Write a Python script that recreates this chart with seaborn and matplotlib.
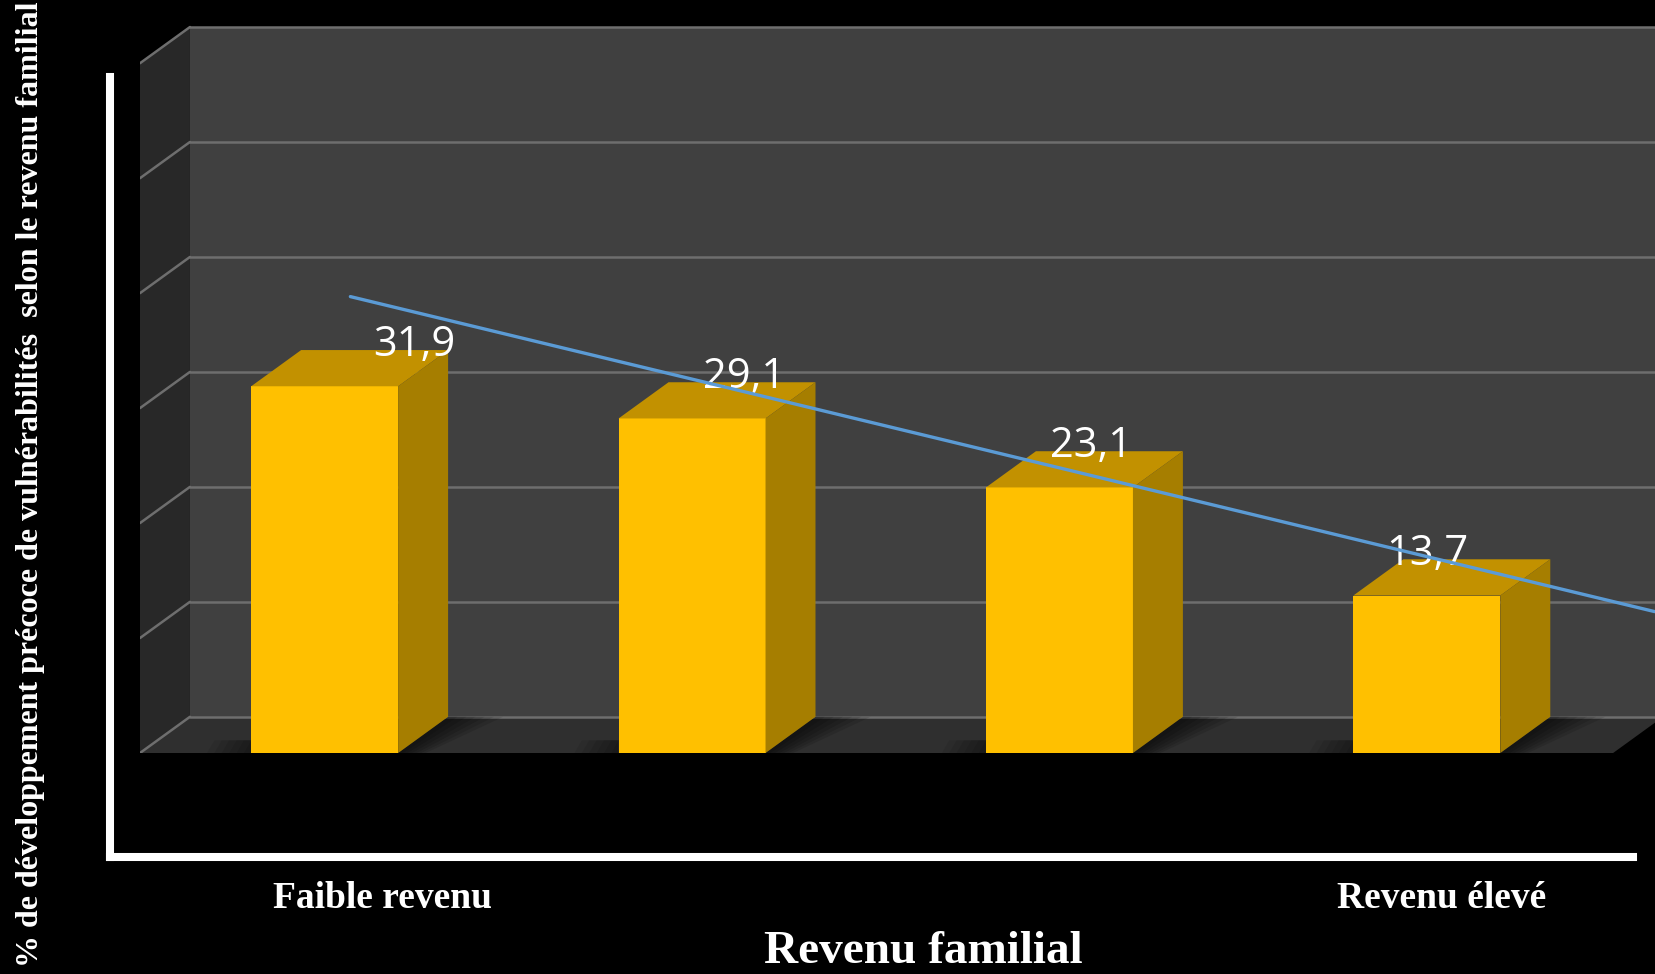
import numpy as np
import pandas as pd
import seaborn as sns
import matplotlib.pyplot as plt
from matplotlib.patches import Polygon

# data
categories = ["Faible revenu", "Revenu 2", "Revenu 3", "Revenu élevé"]
tick_labels = ["Faible revenu", "", "", "Revenu élevé"]
values = [31.9, 29.1, 23.1, 13.7]
value_labels = ["31,9", "29,1", "23,1", "13,7"]
trend_x = [0.07, 3.62]
trend_y = [39.7, 12.3]
grid_values = [0, 10, 20, 30, 40, 50, 60]

# layout (3d look)
label_dx = [0.245, 0.143, 0.087, 0.0]
label_dy = 3.6
depth_x = 0.136
depth_y = 3.15
x_left = -0.5026
x_floor_right = 3.507
x_right = 3.621

df = pd.DataFrame({"cat": categories, "val": values})

sns.set_theme(style="dark")
plt.rcParams["font.family"] = ["Liberation Serif", "DejaVu Serif"]

fig = plt.figure(figsize=(16.55, 9.74), dpi=100)
fig.patch.set_facecolor("black")

# outer white frame (left + bottom)
ax_frame = fig.add_axes([110 / 1655, (974 - 857) / 974, (1633 - 110) / 1655, (857 - 77) / 974])
ax_frame.set_facecolor("none")
for s in ["top", "right"]:
    ax_frame.spines[s].set_visible(False)
for s in ["left", "bottom"]:
    ax_frame.spines[s].set_color("white")
    ax_frame.spines[s].set_linewidth(5.8)
ax_frame.set_xticks([])
ax_frame.set_yticks([])

ax = fig.add_axes([140 / 1655, (974 - 753) / 974, (1655 - 140) / 1655, 753 / 974])
ax.set_facecolor("none")

sns.barplot(data=df, x="cat", y="val", color="#FFC000", saturation=1,
            width=0.4, ax=ax, zorder=3, edgecolor="none", linewidth=0)
bars = list(ax.containers[0])

ax.set_xlim(x_left, x_right)
ax.set_ylim(0, 65.5)

top = grid_values[-1]
# back wall
ax.add_patch(Polygon([(x_left + depth_x, depth_y), (x_right, depth_y),
                      (x_right, top + depth_y), (x_left + depth_x, top + depth_y)],
                     closed=True, facecolor="#404040", edgecolor="none", zorder=0.2))
# left wall
ax.add_patch(Polygon([(x_left, 0), (x_left + depth_x, depth_y),
                      (x_left + depth_x, top + depth_y), (x_left, top)],
                     closed=True, facecolor="#282828", edgecolor="none", zorder=0.2))
# floor
ax.add_patch(Polygon([(x_left, 0), (x_floor_right, 0),
                      (x_floor_right + depth_x, depth_y), (x_left + depth_x, depth_y)],
                     closed=True, facecolor="#2f2f2f", edgecolor="none", zorder=0.3))

# gridlines
for g in grid_values:
    ax.plot([x_left + depth_x, x_right], [g + depth_y, g + depth_y],
            color="#6e6e6e", lw=1.8, zorder=0.4)
    ax.plot([x_left, x_left + depth_x], [g, g + depth_y],
            color="#6e6e6e", lw=1.8, zorder=0.4)

# 3d faces of bars
for p in bars:
    x0 = p.get_x()
    x1 = x0 + p.get_width()
    h = p.get_height()
    # soft floor shadow right of the bar and before it
    for k in range(6):
        w = 0.025 * (k + 1)
        ax.add_patch(Polygon([(x1, 0), (x1 + depth_x, depth_y),
                              (x1 + depth_x + w, depth_y), (x1 + w * 0.5, 0)],
                             closed=True, facecolor="black", alpha=0.12,
                             edgecolor="none", zorder=0.5))
        ax.add_patch(Polygon([(x0 - w * 0.8, 0), (x0 - w * 0.8 + 0.02, depth_y * 0.35),
                              (x0, depth_y * 0.35), (x0, 0)],
                             closed=True, facecolor="black", alpha=0.08,
                             edgecolor="none", zorder=0.5))
    ax.add_patch(Polygon([(x0, h), (x0 + depth_x, h + depth_y),
                          (x1 + depth_x, h + depth_y), (x1, h)],
                         closed=True, facecolor="#C29100", edgecolor="none", zorder=3))
    ax.add_patch(Polygon([(x1, 0), (x1 + depth_x, depth_y),
                          (x1 + depth_x, h + depth_y), (x1, h)],
                         closed=True, facecolor="#A67E00", edgecolor="none", zorder=3))

# value labels
for i, (v, lab) in enumerate(zip(values, value_labels)):
    ax.text(i + label_dx[i], v + label_dy, lab, ha="center", va="center",
            color="white", fontsize=30, family=["Open Sans", "DejaVu Sans"], zorder=5)

# trend line
sns.lineplot(x=trend_x, y=trend_y, color="#5B9BD5", lw=2.4, ax=ax, zorder=6)

for s in ax.spines.values():
    s.set_visible(False)
ax.set_yticks([])
ax.set_xticks([0.158, 3.041])
ax.set_xticklabels([tick_labels[0], tick_labels[3]], color="white",
                   fontsize=27, fontweight="bold")
ax.tick_params(axis="x", length=0, pad=92)
ax.set_xlabel("")
ax.set_ylabel("")
ax.grid(False)

fig.text(923 / 1655, (974 - 963) / 974, "Revenu familial", ha="center", va="baseline",
         color="white", fontsize=34, fontweight="bold")
fig.text(31 / 1655, 1 - 484 / 974,
         "% de développement précoce de vulnérabilités  selon le revenu familial",
         rotation=90, ha="center", va="center", color="white", fontsize=23,
         fontweight="bold")

fig.savefig("out.png", dpi=100, facecolor="black")
